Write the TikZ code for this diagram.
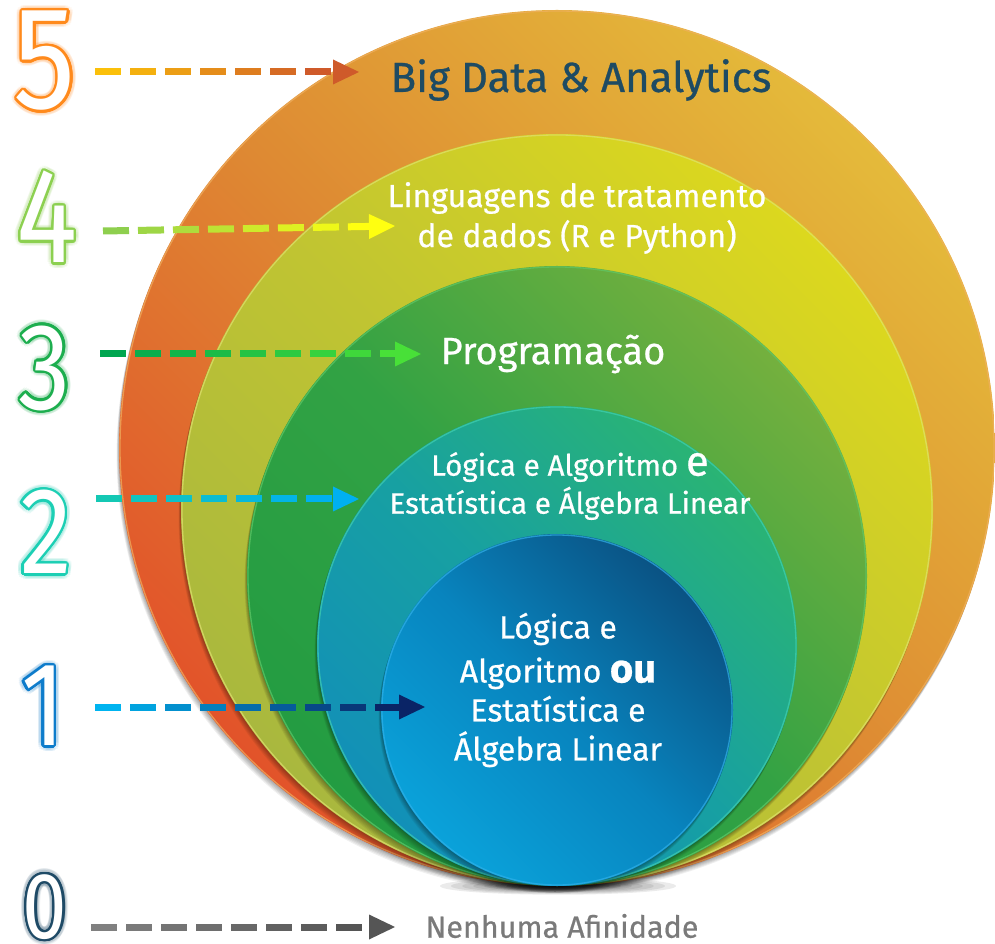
\documentclass[tikz,border=0pt]{standalone}
\usepackage{fontspec}
\setmainfont{Fira Sans}
\newfontfamily\labelfont{Fira Sans}[FakeBold=0.6]
\usetikzlibrary{calc}

% disk colours: bottom-left, middle, top-right, rim
\definecolor{c5a}{HTML}{E2532A}\definecolor{c5m}{HTML}{DE8A33}\definecolor{c5b}{HTML}{E4BA3A}\definecolor{c5r}{HTML}{F0B060}
\definecolor{c4a}{HTML}{A9B83E}\definecolor{c4m}{HTML}{C0C432}\definecolor{c4b}{HTML}{DCD81E}\definecolor{c4r}{HTML}{E0E070}
\definecolor{c3a}{HTML}{239C42}\definecolor{c3m}{HTML}{32A244}\definecolor{c3b}{HTML}{74B03E}\definecolor{c3r}{HTML}{60C868}
\definecolor{c2a}{HTML}{1290B8}\definecolor{c2m}{HTML}{17A0A2}\definecolor{c2b}{HTML}{2AB474}\definecolor{c2r}{HTML}{40D0B0}
\definecolor{c1a}{HTML}{0AA2DA}\definecolor{c1m}{HTML}{0884BE}\definecolor{c1b}{HTML}{0A5283}\definecolor{c1r}{HTML}{30B0E8}
% numerals and labels
\definecolor{n5}{HTML}{FF8A1C}\definecolor{n4}{HTML}{8CD050}\definecolor{n3}{HTML}{1CAE4E}
\definecolor{n2}{HTML}{1CCFB4}\definecolor{n1}{HTML}{0E7CCB}\definecolor{n0}{HTML}{1E4A66}
\definecolor{titlecol}{HTML}{1E4B63}\definecolor{graytext}{HTML}{7A7A7A}
% arrow gradients
\definecolor{a5s}{HTML}{FBC00A}\definecolor{a5e}{HTML}{CF5A2A}
\definecolor{a4s}{HTML}{8ECF4E}\definecolor{a4e}{HTML}{FFFF10}
\definecolor{a3s}{HTML}{00A650}\definecolor{a3e}{HTML}{48E038}
\definecolor{a2s}{HTML}{14C8B4}\definecolor{a2e}{HTML}{00B0F0}
\definecolor{a1s}{HTML}{00B4F0}\definecolor{a1e}{HTML}{0A2466}
\definecolor{a0s}{HTML}{808080}\definecolor{a0e}{HTML}{555555}

\tikzset{
  numeral/.style={font=\fontsize{#1}{#1}\selectfont, inner sep=0pt, xscale=0.85},
  label/.style={align=center, inner sep=0pt, text=white},
}

% a disk resting on the common bottom point, with a soft drop shadow
\newcommand\disk[5]{%
  \foreach \k in {1,...,6}
    \fill[black, opacity=0.06] (557-0.4*\k, 57+#1-1.1*\k) circle (#1);
  \shade[top color=#4, bottom color=#2, middle color=#3, shading angle=-45]
    (557,57+#1) circle (#1);
  \draw[#5, line width=1.3pt, opacity=0.7] (557,57+#1) circle (#1-1);
}

% outlined numeral with a faint glow
\newcommand\numeral[5]{%
  \foreach \a in {0,20,...,340}
    \node[numeral=#3, text=#4, opacity=0.07] at ([shift={(\a:5.5)}]#2) {#5};
  \foreach \a in {0,15,...,345}
    \node[numeral=#3, text=#4] at ([shift={(\a:2.3)}]#2) {#5};
  \node[numeral=#3, text=white] (#1) at (#2) {#5};
}

% dashed arrow whose dashes fade from one colour to another
\newcommand\gradarrow[5]{%
  \foreach \k in {1,...,#3} {
    \pgfmathtruncatemacro\pct{100*(\k-1)/(#3-1)}
    \pgfmathsetmacro\da{35*(\k-1)}
    \pgfmathsetmacro\db{35*(\k-1)+26}
    \draw[line width=7pt, #5!\pct!#4] ($(#1)!\da pt!(#2)$) -- ($(#1)!\db pt!(#2)$);
  }
  \coordinate (hb) at ($(#2)!26pt!(#1)$);
  \fill[#5] (#2) -- ($(hb)!12.5pt!90:(#2)$) -- ($(hb)!12.5pt!-90:(#2)$) -- cycle;
}

\begin{document}
\begin{tikzpicture}[x=1pt,y=1pt]
\useasboundingbox (0,0) rectangle (995,943);
\clip (0,0) rectangle (995,943);
\fill[white] (0,0) rectangle (995,943);

% dark contact shadow under the stack
\foreach \k in {1,...,8}
  \fill[black, opacity=0.08] (558,57) ellipse ({30+11*\k} and {1.5+0.9*\k});

% nested disks, largest first
\disk{438}{c5a}{c5m}{c5b}{c5r}
\disk{376}{c4a}{c4m}{c4b}{c4r}
\disk{310}{c3a}{c3m}{c3b}{c3r}
\disk{240}{c2a}{c2m}{c2b}{c2r}
\disk{176}{c1a}{c1m}{c1b}{c1r}

% level numerals
\numeral{d5}{45,882}{146}{n5}{5}
\numeral{d4}{47,726}{135}{n4}{4}
\numeral{d3}{45,575}{123}{n3}{3}
\numeral{d2}{46,411}{123}{n2}{2}
\numeral{d1}{43,237}{119}{n1}{1}
\numeral{d0}{45,36}{94}{n0}{0}

% level labels
\node[label, text=titlecol, font=\labelfont\fontsize{42}{44}\selectfont] (t5) at (581,863) {Big Data \& Analytics};
\node[label, font=\labelfont\fontsize{32}{40}\selectfont] (t4) at (577,725) {Linguagens de tratamento\\de dados (R e Python)};
\node[label, font=\labelfont\fontsize{38}{40}\selectfont] (t3) at (553,589) {Programação};
\node[label, font=\labelfont\fontsize{29.5}{38}\selectfont] (t2) at (570,457) {Lógica e Algoritmo {\fontsize{42}{38}\selectfont e}\\Estatística e Álgebra Linear};
\node[label, font=\labelfont\fontsize{32}{39}\selectfont] (t1) at (558,253) {Lógica e\\[5pt]Algoritmo {\fontsize{40}{39}\selectfont\bfseries ou}\\Estatística e\\Álgebra Linear};
\node[label, text=graytext, font=\labelfont\fontsize{30.5}{32}\selectfont] (t0) at (562,17) {Nenhuma Afinidade};

% arrow ends
\coordinate (s5) at (95,871);  \coordinate (e5) at (359,871);
\coordinate (s4) at (103,712); \coordinate (e4) at (395,717);
\coordinate (s3) at (100,589); \coordinate (e3) at (421,589);
\coordinate (s2) at (96,444);  \coordinate (e2) at (359,444);
\coordinate (s1) at (95,236);  \coordinate (e1) at (425,236);
\coordinate (s0) at (91,16);   \coordinate (e0) at (395,16);

\gradarrow{s5}{e5}{7}{a5s}{a5e}
\gradarrow{s4}{e4}{8}{a4s}{a4e}
\gradarrow{s3}{e3}{9}{a3s}{a3e}
\gradarrow{s2}{e2}{7}{a2s}{a2e}
\gradarrow{s1}{e1}{9}{a1s}{a1e}
\gradarrow{s0}{e0}{8}{a0s}{a0e}
\end{tikzpicture}
\end{document}
